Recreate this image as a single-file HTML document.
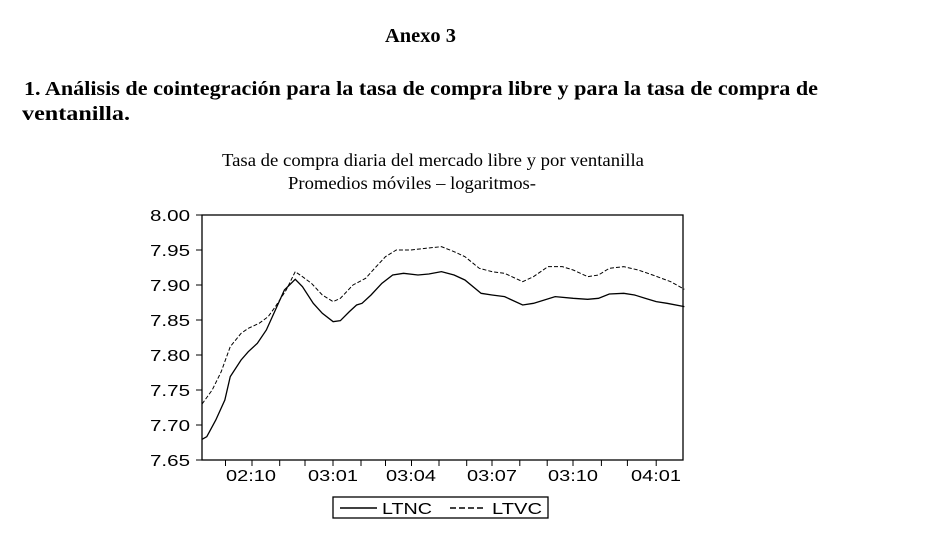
<!DOCTYPE html>
<html><head><meta charset="utf-8"><style>
html,body{margin:0;padding:0;background:#fff;}
svg{display:block;}
.s{font-family:"Liberation Serif",serif;}
.a{font-family:"Liberation Sans",sans-serif;font-size:16px;}
</style></head><body>
<svg width="949" height="533" viewBox="0 0 949 533" xmlns="http://www.w3.org/2000/svg">
<text class="s" x="385" y="42" font-size="20" font-weight="bold" textLength="71" lengthAdjust="spacingAndGlyphs">Anexo 3</text>
<text class="s" x="24" y="95" font-size="20" font-weight="bold" textLength="794" lengthAdjust="spacingAndGlyphs">1. Análisis de cointegración para la tasa de compra libre y para la tasa de compra de</text>
<text class="s" x="22" y="120" font-size="20" font-weight="bold" textLength="108" lengthAdjust="spacingAndGlyphs">ventanilla.</text>
<text class="s" x="222" y="166" font-size="18" textLength="422" lengthAdjust="spacingAndGlyphs">Tasa de compra diaria del mercado libre y por ventanilla</text>
<text class="s" x="288" y="189" font-size="18" textLength="248" lengthAdjust="spacingAndGlyphs">Promedios móviles – logaritmos-</text>

<rect x="202" y="215" width="481" height="245" fill="none" stroke="#000" stroke-width="1.3"/>
<g stroke="#000" stroke-width="1">
<line x1="196" y1="215" x2="202" y2="215"/><line x1="196" y1="250" x2="202" y2="250"/>
<line x1="196" y1="285" x2="202" y2="285"/><line x1="196" y1="320" x2="202" y2="320"/>
<line x1="196" y1="355" x2="202" y2="355"/><line x1="196" y1="390" x2="202" y2="390"/>
<line x1="196" y1="425" x2="202" y2="425"/><line x1="196" y1="460" x2="202" y2="460"/>
</g>
<g class="a" fill="#000">
<text x="150" y="221" textLength="40" lengthAdjust="spacingAndGlyphs">8.00</text><text x="150" y="256" textLength="40" lengthAdjust="spacingAndGlyphs">7.95</text><text x="150" y="291" textLength="40" lengthAdjust="spacingAndGlyphs">7.90</text>
<text x="150" y="326" textLength="40" lengthAdjust="spacingAndGlyphs">7.85</text><text x="150" y="361" textLength="40" lengthAdjust="spacingAndGlyphs">7.80</text><text x="150" y="396" textLength="40" lengthAdjust="spacingAndGlyphs">7.75</text>
<text x="150" y="431" textLength="40" lengthAdjust="spacingAndGlyphs">7.70</text><text x="150" y="466" textLength="40" lengthAdjust="spacingAndGlyphs">7.65</text>
</g>
<g stroke="#000" stroke-width="1">
<line x1="225.5" y1="460" x2="225.5" y2="466"/><line x1="252" y1="460" x2="252" y2="466"/>
<line x1="279.7" y1="460" x2="279.7" y2="466"/><line x1="305" y1="460" x2="305" y2="466"/>
<line x1="333" y1="460" x2="333" y2="466"/><line x1="361" y1="460" x2="361" y2="466"/>
<line x1="385.5" y1="460" x2="385.5" y2="466"/><line x1="411.5" y1="460" x2="411.5" y2="466"/>
<line x1="439" y1="460" x2="439" y2="466"/><line x1="466.7" y1="460" x2="466.7" y2="466"/>
<line x1="492" y1="460" x2="492" y2="466"/><line x1="519.8" y1="460" x2="519.8" y2="466"/>
<line x1="547.2" y1="460" x2="547.2" y2="466"/><line x1="573" y1="460" x2="573" y2="466"/>
<line x1="601.4" y1="460" x2="601.4" y2="466"/><line x1="627.4" y1="460" x2="627.4" y2="466"/>
<line x1="656.2" y1="460" x2="656.2" y2="466"/>
</g>
<g class="a" fill="#000">
<text x="226" y="481" textLength="50" lengthAdjust="spacingAndGlyphs">02:10</text><text x="308" y="481" textLength="50" lengthAdjust="spacingAndGlyphs">03:01</text><text x="386" y="481" textLength="50" lengthAdjust="spacingAndGlyphs">03:04</text>
<text x="467" y="481" textLength="50" lengthAdjust="spacingAndGlyphs">03:07</text><text x="548" y="481" textLength="50" lengthAdjust="spacingAndGlyphs">03:10</text><text x="631" y="481" textLength="50" lengthAdjust="spacingAndGlyphs">04:01</text>
</g>
<g transform="translate(140,200) scale(0.361,0.3333)" fill="none" stroke="#000">
<polyline vector-effect="non-scaling-stroke" stroke-width="1.3" points="172,718 185,710 210,660 235,600 250,530 280,480 300,455 325,430 350,390 375,330 400,270 430,238 450,260 480,310 505,340 535,365 555,362 580,335 600,315 615,310 640,285 670,250 700,225 730,220 770,225 800,222 835,215 870,225 900,240 945,280 975,285 1010,290 1060,315 1090,310 1150,290 1200,295 1240,298 1270,295 1300,282 1340,280 1370,285 1400,295 1430,305 1460,310 1508,320"/>
<polyline vector-effect="non-scaling-stroke" stroke-width="1" stroke-dasharray="4,2" points="172,612 200,570 225,515 250,440 280,400 300,385 330,370 355,350 375,320 405,270 430,215 450,230 475,250 505,285 535,305 555,295 590,255 625,235 650,205 680,170 710,150 750,150 790,145 835,140 870,155 900,170 940,205 975,215 1010,220 1060,245 1090,230 1130,200 1170,200 1200,210 1240,230 1270,225 1300,205 1340,200 1380,210 1420,225 1470,245 1508,268"/>
</g>
<rect x="333" y="497" width="215" height="21" fill="none" stroke="#000" stroke-width="1.3"/>
<line x1="340" y1="508" x2="377" y2="508" stroke="#000" stroke-width="1.5"/>
<text class="a" x="382" y="514" textLength="50" lengthAdjust="spacingAndGlyphs">LTNC</text>
<line x1="450" y1="508" x2="486" y2="508" stroke="#000" stroke-width="1.5" stroke-dasharray="6,3"/>
<text class="a" x="492" y="514" textLength="50" lengthAdjust="spacingAndGlyphs">LTVC</text>
</svg>
</body></html>
